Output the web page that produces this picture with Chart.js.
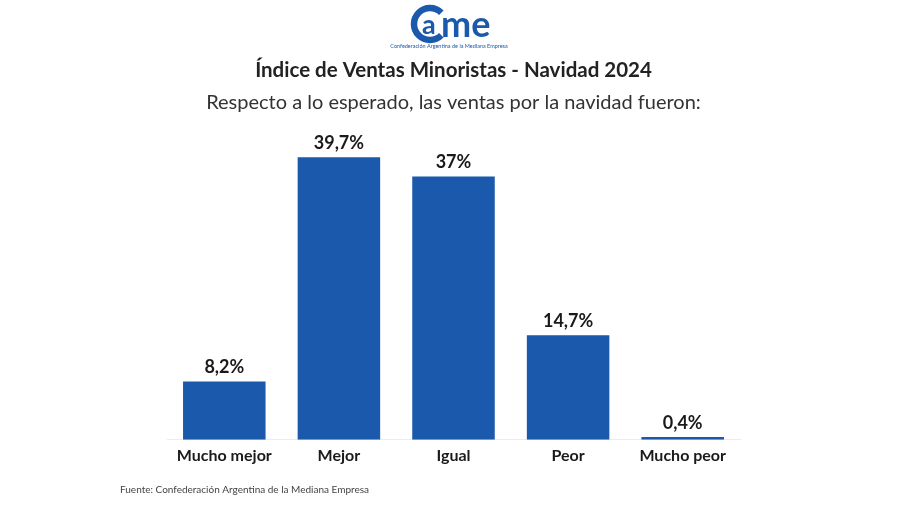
<!DOCTYPE html>
<html>
<head>
<meta charset="utf-8">
<script src="https://cdn.jsdelivr.net/npm/chart.js@4"></script>
<style>
  html, body { margin: 0; padding: 0; background: #fff; }
</style>
</head>
<body>
<canvas id="myChart" width="900" height="505"></canvas>
<script>
var categories = ['Mucho mejor', 'Mejor', 'Igual', 'Peor', 'Mucho peor'];
var values = [8.2, 39.7, 37, 14.7, 0.4];
var titleText = 'Índice de Ventas Minoristas - Navidad 2024';
var subtitleText = 'Respecto a lo esperado, las ventas por la navidad fueron:';
var sourceText = 'Fuente: Confederación Argentina de la Mediana Empresa';

var blue = '#1b59ac';

function pct(v) {
  return String(v).replace('.', ',') + '%';
}

// value labels above each bar, plus logo and source line
var extras = {
  id: 'extras',
  afterDatasetsDraw: function(chart) {
    var ctx = chart.ctx;
    var meta = chart.getDatasetMeta(0);
    ctx.save();
    ctx.font = 'bold 18px Lato';
    ctx.fillStyle = '#1a1a1a';
    ctx.textAlign = 'center';
    ctx.textBaseline = 'bottom';
    meta.data.forEach(function(bar, i) {
      ctx.fillText(pct(values[i]), bar.x, bar.y - 5);
    });
    ctx.restore();
  },
  afterDraw: function(chart) {
    var ctx = chart.ctx;
    ctx.save();
    // source
    ctx.font = '10px Lato';
    ctx.fillStyle = '#444';
    ctx.textAlign = 'left';
    ctx.textBaseline = 'middle';
    ctx.fillText(sourceText, 120, 490);

    // logo
    ctx.strokeStyle = blue;
    ctx.lineWidth = 6.5;
    ctx.beginPath();
    ctx.arc(430, 24, 16, 0.25 * Math.PI, 1.75 * Math.PI);
    ctx.stroke();
    ctx.fillStyle = blue;
    ctx.font = 'bold 27px Lato';
    ctx.textAlign = 'left';
    ctx.textBaseline = 'alphabetic';
    ctx.fillText('a', 422, 34);
    ctx.font = 'bold 36px Lato';
    ctx.fillText('me', 441, 37);
    ctx.font = '5.5px Lato';
    ctx.textAlign = 'center';
    ctx.fillText('Confederación Argentina de la Mediana Empresa', 449, 48);
    ctx.restore();
  }
};

var ctx = document.getElementById('myChart').getContext('2d');
var chart = new Chart(ctx, {
  type: 'bar',
  data: {
    labels: categories,
    datasets: [{
      data: values,
      backgroundColor: blue,
      borderWidth: 0,
      barPercentage: 0.72,
      categoryPercentage: 1
    }]
  },
  options: {
    responsive: false,
    devicePixelRatio: 1,
    animation: false,
    layout: {
      padding: { left: 167, right: 160, top: 0, bottom: 34 }
    },
    plugins: {
      legend: { display: false },
      tooltip: { enabled: false },
      title: {
        display: true,
        text: titleText,
        color: '#222',
        font: { family: 'Lato', size: 20.5, weight: 'bold' },
        padding: { top: 58, bottom: 6 }
      },
      subtitle: {
        display: true,
        text: subtitleText,
        color: '#333',
        font: { family: 'Lato', size: 20, weight: 'normal' },
        padding: { top: 2, bottom: 5 }
      }
    },
    scales: {
      x: {
        grid: { display: false, drawTicks: false },
        border: { display: true, color: '#ececec', width: 1 },
        ticks: {
          color: '#1a1a1a',
          padding: 6,
          font: { family: 'Lato', size: 16, weight: 'bold' }
        }
      },
      y: {
        display: false,
        min: 0,
        max: 45
      }
    }
  },
  plugins: [extras]
});
</script>
</body>
</html>
